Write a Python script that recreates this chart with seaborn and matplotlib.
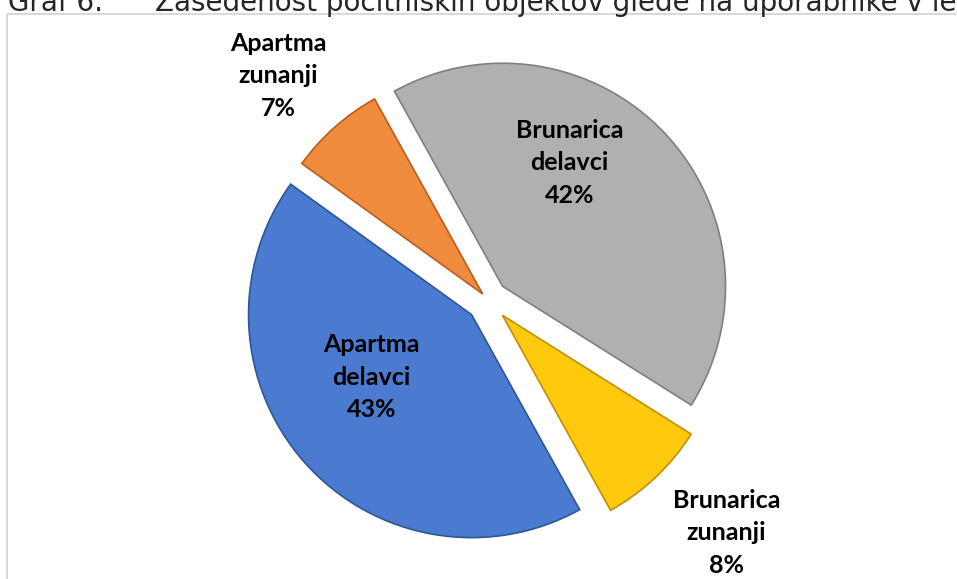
import numpy as np
import matplotlib
matplotlib.use("Agg")
import matplotlib.pyplot as plt
import matplotlib.patches as mpatches
import seaborn as sns

# data (clockwise from the start angle)
categories = ["Apartma\ndelavci", "Apartma\nzunanji", "Brunarica\ndelavci", "Brunarica\nzunanji"]
shares = [43, 7, 42, 8]

colors = ["#4A7BD0", "#F08A3C", "#B0B0B0", "#FFC90E"]
edges = ["#2F5597", "#B85F1E", "#7F7F7F", "#BF9000"]
explode = [22, 8, 20, 21]          # px, matplotlib does not scale this by radius
# label placement: (fraction of radius from wedge apex, angle shift in degrees)
label_pos = [(0.53, -9.6), (1.34, 1.5), (0.63, 18.0), (1.40, 2.5)]

W, H = 957, 579
sns.set_theme(style="white")
plt.rcParams["font.family"] = ["Lato", "DejaVu Sans"]

fig = plt.figure(figsize=(W / 100, H / 100), dpi=100)
ax = fig.add_axes([0, 0, 1, 1])

center = (488, H - 300)
radius = 223
wedges, _ = ax.pie(shares, colors=colors, explode=explode, startangle=-61,
                   counterclock=False, center=center, radius=radius,
                   wedgeprops=dict(linewidth=1.2))
for w, ec in zip(wedges, edges):
    w.set_edgecolor(ec)

ax.set_xlim(0, W)
ax.set_ylim(0, H)
ax.set_aspect("equal")
ax.axis("off")

for w, cat, val, (rf, dth) in zip(wedges, categories, shares, label_pos):
    mid = np.deg2rad((w.theta1 + w.theta2) / 2 + dth)
    cx, cy = w.center
    x = cx + rf * radius * np.cos(mid)
    y = cy + rf * radius * np.sin(mid)
    ax.text(x, y, f"{cat}\n{val}%", ha="center", va="center", fontsize=18,
            fontweight="bold", color="black", linespacing=1.5)

# chart frame and the cut-off caption above it
fig.patches.append(mpatches.Rectangle((7 / W, -0.1), 1.2, 1.1 - 14 / H, transform=fig.transFigure,
                                      fill=False, edgecolor="#D9D9D9", linewidth=1.5))
fig.text(8 / W, 1 - 11 / H, "Graf 6.", fontsize=20, va="baseline", ha="left",
         family="DejaVu Sans")
fig.text(155 / W, 1 - 11 / H, "Zasedenost počitniških objektov glede na uporabnike v letu",
         fontsize=20, va="baseline", ha="left", family="DejaVu Sans")

fig.savefig("out.png", dpi=100)
